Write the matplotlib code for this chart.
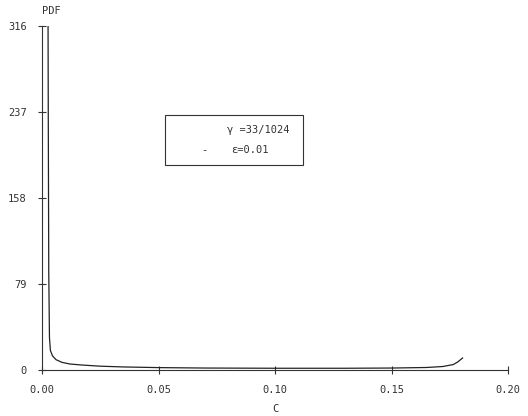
import matplotlib.pyplot as plt
import numpy as np

# valores
c = [0.0026, 0.0027, 0.0029, 0.0032, 0.0036, 0.0045, 0.006, 0.0086, 0.012, 0.017,
     0.025, 0.035, 0.05, 0.07, 0.1, 0.13, 0.15, 0.165, 0.172, 0.1765, 0.1785, 0.1805]
pdf = [316, 230, 90, 30, 18, 13, 9.5, 7, 5.5, 4.6,
       3.5, 2.8, 2.2, 1.8, 1.6, 1.6, 1.8, 2.3, 3.2, 5, 7.5, 11]

xticks = [0.00, 0.05, 0.10, 0.15, 0.20]
xtick_labels = ['0.00', '0.05', '0.10', '0.15', '0.20']
yticks = [0, 79, 158, 237, 316]
legend_lines = ['\u03b3 =33/1024', '\u03b5=0.01']

plt.rcParams['font.family'] = 'DejaVu Sans Mono'

fig = plt.figure(figsize=(5.28, 4.16), dpi=100)
ax = fig.add_axes([42/528, 1 - 370/416, 466/528, 344/416])

ax.plot(c, pdf, color='#222222', lw=0.9)

ax.set_xlim(0, 0.20)
ax.set_ylim(0, 316)
ax.set_xticks(xticks)
ax.set_xticklabels(xtick_labels)
ax.set_yticks(yticks)
ax.tick_params(direction='inout', length=6, width=0.8, labelsize=7.5, colors='#333333', pad=8)
ax.spines['top'].set_visible(False)
ax.spines['right'].set_visible(False)
for s in ['left', 'bottom']:
    ax.spines[s].set_color('#333333')
    ax.spines[s].set_linewidth(0.8)

ax.set_xlabel('C', fontsize=7.5, color='#333333', labelpad=6)
ax.text(0.0, 1.03, 'PDF', transform=ax.transAxes, fontsize=7.5, color='#333333', ha='left', va='bottom')

# caixa da legenda
box = plt.Rectangle((165/528, 1 - 165/416), 138/528, 50/416, transform=fig.transFigure,
                    fill=False, edgecolor='#333333', lw=0.8)
fig.patches.append(box)
fig.text(258/528, 1 - 130/416, legend_lines[0], fontsize=7.5, color='#333333', ha='center', va='center')
fig.text(250/528, 1 - 150/416, legend_lines[1], fontsize=7.5, color='#333333', ha='center', va='center')
fig.text(204/528, 1 - 150/416, '-', fontsize=7.5, color='#333333', ha='center', va='center')

fig.savefig('out.png', dpi=100)
